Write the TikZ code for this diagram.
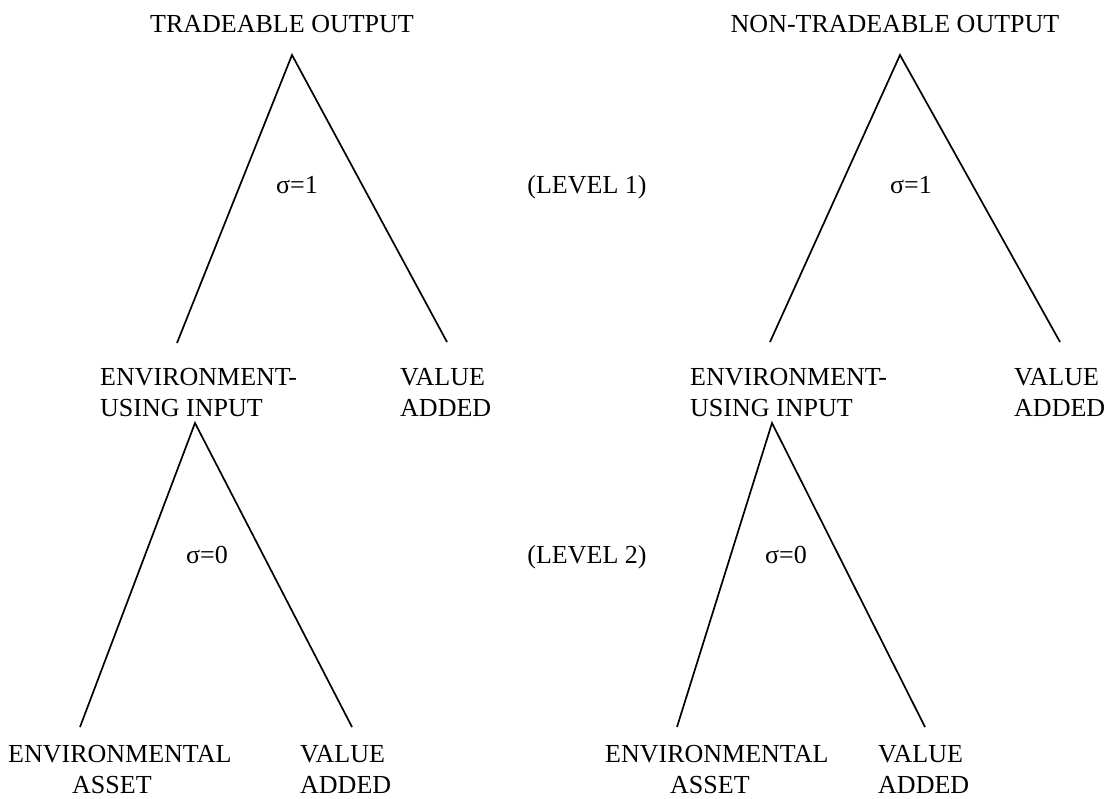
\documentclass[tikz,border=0pt]{standalone}
\usepackage{fontspec}
\setmainfont{Liberation Serif}
\begin{document}
\begin{tikzpicture}[x=1pt,y=-1pt,
  lbl/.style={inner sep=0pt,anchor=base,font=\fontsize{26}{31}\selectfont},
  lblw/.style={lbl,anchor=base west},
  leg/.style={line width=1.7pt}]
\useasboundingbox (0,0) rectangle (1110,798);
% level 1
\node[lbl] (t1) at (282,32) {TRADEABLE OUTPUT};
\node[lbl] (t2) at (895,32) {NON-TRADEABLE OUTPUT};
\node[lbl] (s1) at (297,193) {σ=1};
\node[lbl] (l1) at (587,193) {(LEVEL 1)};
\node[lbl] (s2) at (911,193) {σ=1};
\node[lblw] (e1a) at (100,385) {ENVIRONMENT-};
\node[lblw] (e1b) at (100,416) {USING INPUT};
\node[lblw] (v1a) at (400,385) {VALUE};
\node[lblw] (v1b) at (400,416) {ADDED};
\node[lblw] (e2a) at (690,385) {ENVIRONMENT-};
\node[lblw] (e2b) at (690,416) {USING INPUT};
\node[lblw] (v2a) at (1014,385) {VALUE};
\node[lblw] (v2b) at (1014,416) {ADDED};
% level 2
\node[lbl] (s3) at (207,563) {σ=0};
\node[lbl] (l2) at (587,563) {(LEVEL 2)};
\node[lbl] (s4) at (786,563) {σ=0};
\node[lblw] (a1a) at (8,762) {ENVIRONMENTAL};
\node[lblw] (a1b) at (72,793) {ASSET};
\node[lblw] (w1a) at (300,762) {VALUE};
\node[lblw] (w1b) at (300,793) {ADDED};
\node[lblw] (a2a) at (605,762) {ENVIRONMENTAL};
\node[lblw] (a2b) at (670,793) {ASSET};
\node[lblw] (w2a) at (878,762) {VALUE};
\node[lblw] (w2b) at (878,793) {ADDED};
% tree points
\coordinate (p1) at (292,55);
\coordinate (p1l) at (177,343);
\coordinate (p1r) at (447,342);
\coordinate (p2) at (900,55);
\coordinate (p2l) at (770,342);
\coordinate (p2r) at (1060,342);
\coordinate (p3) at (195,423);
\coordinate (p3l) at (80,727);
\coordinate (p3r) at (352,727);
\coordinate (p4) at (772,423);
\coordinate (p4l) at (677,727);
\coordinate (p4r) at (925,727);
\draw[leg] (p1l) -- (p1) -- (p1r);
\draw[leg] (p2l) -- (p2) -- (p2r);
\draw[leg] (p3l) -- (p3) -- (p3r);
\draw[leg] (p4l) -- (p4) -- (p4r);
\end{tikzpicture}
\end{document}
